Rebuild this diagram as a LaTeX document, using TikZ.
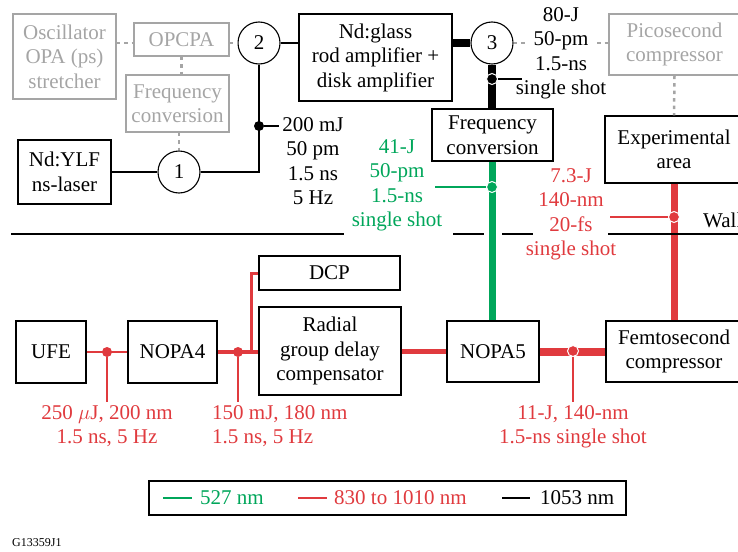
\documentclass[tikz,border=0pt]{standalone}
\usepackage{fontspec}
\setmainfont{Liberation Serif}
\definecolor{lsrGreen}{RGB}{0,166,90}
\definecolor{lsrRed}{RGB}{224,58,62}
\definecolor{lsrGray}{RGB}{165,165,165}
\begin{document}
\begin{tikzpicture}[x=1pt,y=-1pt,font=\fontsize{21}{24.5}\selectfont,
  lsrBox/.style={draw, line width=1.1pt, align=center, inner sep=0pt},
  lsrGrayBox/.style={lsrBox, draw=lsrGray, text=lsrGray},
  lsrNum/.style={circle, draw, fill=white, line width=1.1pt, minimum size=42pt, inner sep=0pt},
  lsrDot/.style={circle, inner sep=0pt, minimum size=11pt, draw=white, line width=1pt},
  lsrDotSolid/.style={circle, inner sep=0pt, minimum size=10pt},
  lsrLabel/.style={align=center, inner sep=0pt},
  lsrGrayLine/.style={lsrGray, line width=2.5pt, dash pattern=on 3.5pt off 4pt},
  lsrThin/.style={line width=1.3pt},
  lsrBeam/.style={line width=2pt}]
\useasboundingbox (0,0) rectangle (738,551);
\node[lsrGrayBox, minimum width=103, minimum height=85] (osc) at (64.5,56.5) {Oscillator\\OPA (ps)\\stretcher};
\node[lsrGrayBox, minimum width=95, minimum height=33] (opcpa) at (181.5,39.5) {OPCPA};
\node[lsrGrayBox, minimum width=103, minimum height=57] (fcgray) at (177.5,103.5) {Frequency\\conversion};
\node[lsrGrayBox, minimum width=131, minimum height=61] (pico) at (674.5,44.5) {Picosecond\\compressor};
\node[lsrBox, minimum width=93, minimum height=64] (ylf) at (64.5,172) {Nd:YLF\\ns-laser};
\node[lsrBox, minimum width=153, minimum height=87] (glass) at (375.5,57.5) {Nd:glass\\rod amplifier +\\disk amplifier};
\node[lsrBox, minimum width=121, minimum height=52] (fcblack) at (492.5,135) {Frequency\\conversion};
\node[lsrBox, minimum width=138, minimum height=67] (exp) at (674,149.5) {Experimental\\area};
\node[lsrBox, minimum width=70, minimum height=62] (ufe) at (51,352) {UFE};
\node[lsrBox, minimum width=89, minimum height=62] (nopa4) at (172.5,352) {NOPA4};
\node[lsrBox, minimum width=141, minimum height=34] (dcp) at (329.5,273) {DCP};
\node[lsrBox, minimum width=142, minimum height=88] (radial) at (330,351) {Radial\\group delay\\compensator};
\node[lsrBox, minimum width=92, minimum height=61] (nopa5) at (493,351.5) {NOPA5};
\node[lsrBox, minimum width=136, minimum height=61] (fem) at (674,351.5) {Femtosecond\\compressor};
\node[lsrNum] (c1) at (179,172) {1};
\node[lsrNum] (c2) at (259,43) {2};
\node[lsrNum] (c3) at (492,43) {3};
\coordinate (dashA) at (527,43);
\coordinate (dashB) at (597,43);
\draw[lsrGrayLine] (osc.east |- c2) -- (opcpa.west |- c2);
\draw[lsrGrayLine] (opcpa.east |- c2) -- (c2.west);
\draw[lsrGrayLine] (opcpa.south) -- (opcpa.south |- fcgray.north);
\draw[lsrGrayLine] (fcgray.south -| c1) -- (c1.north);
\draw[lsrGrayLine] (c3.east) -- (dashA);
\draw[lsrGrayLine] (dashB) -- (pico.west |- dashB);
\draw[lsrGrayLine] (pico.south) -- (exp.north);
\draw[lsrBeam] (ylf.east |- c1) -- (c1.west);
\draw[lsrBeam] (c1.east) -| (c2.south);
\draw[lsrBeam] (c2.east) -- (c2.east -| glass.west);
\draw[line width=8pt] (glass.east |- c3) -- (c3.west);
\draw[line width=8pt] (c3.south) -- (fcblack.north -| c3);
\draw[lsrGreen, line width=7pt] (fcblack.south -| c3) -- (nopa5.north -| c3);
\draw[lsrRed, line width=7pt] (exp.south) -- (fem.north);
\draw[lsrRed, lsrThin] (ufe.east) -- (nopa4.west);
\coordinate (branch) at (251,352);
\draw[lsrRed, line width=3.5pt] (nopa4.east) -- (radial.west |- nopa4);
\draw[lsrRed, line width=3pt] (branch) |- (dcp.west);
\draw[lsrRed, line width=5.5pt] (radial.east |- nopa5) -- (nopa5.west);
\draw[lsrRed, line width=8pt] (nopa5.east) -- (fem.west);
\draw[line width=2pt] (11,234) -- (344,234) (453,234) -- (484,234)
  (502,234) -- (533,234) (608,234) -- (745,234);
\node[anchor=base west, inner sep=0pt] (wall) at (703,227) {Wall};
\node[lsrDotSolid, fill=black] (d200) at (259,126) {};
\coordinate (t200) at (279,126);
\draw[lsrThin] (d200) -- (t200);
\node[lsrLabel] (l200) at (313,161) {200 mJ\\50 pm\\1.5 ns\\5 Hz};
\node[lsrDot, fill=black] (d80) at (492,79) {};
\coordinate (t80) at (522,79);
\draw[lsrThin] (d80) -- (t80);
\node[lsrLabel] (l80) at (561,53.5) {80-J\\50-pm\\1.5-ns\\single shot};
\node[lsrDot, fill=lsrGreen] (d41) at (492,187) {};
\coordinate (t41) at (435,187);
\draw[lsrGreen, lsrThin] (d41) -- (t41);
\node[lsrLabel, text=lsrGreen] (l41) at (397,185.5) {41-J\\50-pm\\1.5-ns\\single shot};
\node[lsrDot, fill=lsrRed] (d73) at (674,217) {};
\coordinate (t73) at (610,217);
\draw[lsrRed, lsrThin] (d73) -- (t73);
\node[lsrLabel, text=lsrRed] (l73) at (571,214.5) {7.3-J\\140-nm\\20-fs\\single shot};
\node[lsrDotSolid, fill=lsrRed] (d250) at (107,352) {};
\coordinate (t250) at (107,402);
\draw[lsrRed, lsrThin] (d250) -- (t250);
\node[lsrLabel, text=lsrRed, anchor=north] (l250) at (107,405) {250 $\mu$J, 200 nm\\1.5 ns, 5 Hz};
\node[lsrDotSolid, fill=lsrRed] (d150) at (238,352) {};
\coordinate (t150) at (238,402);
\draw[lsrRed, lsrThin] (d150) -- (t150);
\node[lsrLabel, text=lsrRed, align=left, anchor=north west] (l150) at (212,405) {150 mJ, 180 nm\\1.5 ns, 5 Hz};
\node[lsrDot, fill=lsrRed] (d11) at (573,351) {};
\coordinate (t11) at (573,402);
\draw[lsrRed, lsrThin] (d11) -- (t11);
\node[lsrLabel, text=lsrRed, anchor=north] (l11) at (573,405) {11-J, 140-nm\\1.5-ns single shot};
\node[lsrBox, minimum width=477, minimum height=34] (legend) at (387.5,498) {};
\draw[lsrGreen, line width=2.5pt] (163,498) -- (192,498);
\node[anchor=west, inner sep=0pt, text=lsrGreen] (lg527) at (200,498) {527 nm};
\draw[lsrRed, line width=2.5pt] (298,498) -- (327,498);
\node[anchor=west, inner sep=0pt, text=lsrRed] (lg830) at (334,498) {830 to 1010 nm};
\draw[line width=2.5pt] (502,498) -- (530,498);
\node[anchor=west, inner sep=0pt] (lg1053) at (540,498) {1053 nm};
\node[anchor=west, inner sep=0pt, font=\fontsize{12}{14}\selectfont] (fig) at (12,543) {G13359J1};
\end{tikzpicture}
\end{document}
